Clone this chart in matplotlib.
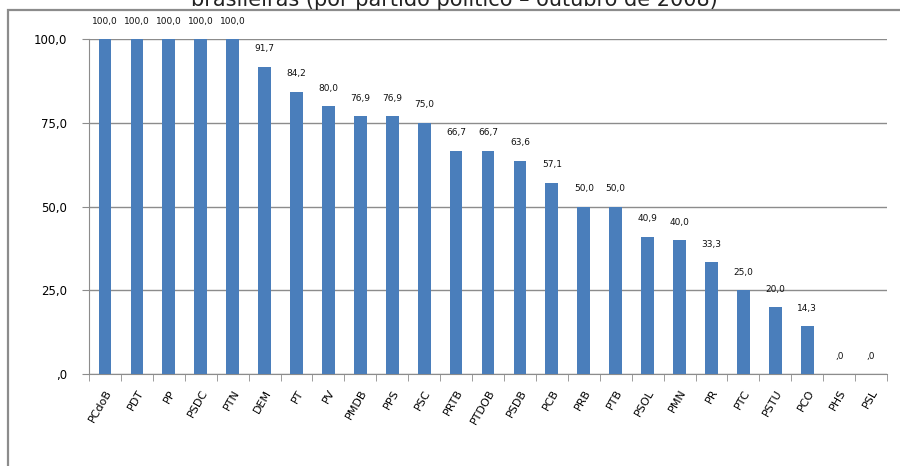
import matplotlib.pyplot as plt
from matplotlib.patches import Rectangle
from matplotlib.ticker import FixedLocator, FuncFormatter

partidos = ["PCdoB", "PDT", "PP", "PSDC", "PTN", "DEM", "PT", "PV", "PMDB", "PPS",
            "PSC", "PRTB", "PTDOB", "PSDB", "PCB", "PRB", "PTB", "PSOL", "PMN", "PR",
            "PTC", "PSTU", "PCO", "PHS", "PSL"]
valores = [100.0, 100.0, 100.0, 100.0, 100.0, 91.7, 84.2, 80.0, 76.9, 76.9,
           75.0, 66.7, 66.7, 63.6, 57.1, 50.0, 50.0, 40.9, 40.0, 33.3,
           25.0, 20.0, 14.3, 0.0, 0.0]
y_ticks = [0, 25, 50, 75, 100]


def fmt_br(v):
    s = f"{v:.1f}".replace(".", ",")
    if s.startswith("0,"):
        s = s[1:]
    return s


fig = plt.figure(figsize=(9, 4.66), dpi=100)
ax = fig.add_axes([0.0989, 0.1974, 0.8867, 0.7189])

# outer border of the chart area
fig.patches.append(Rectangle((8 / 900, -0.05), 1.1, 1 - 10 / 466 + 0.05,
                             transform=fig.transFigure, fill=False,
                             edgecolor="#8c8c8c", linewidth=1.6))

# title is cut off at the top edge, as in the source image
fig.text(0.505, 1 - 6 / 466, "brasileiras (por partido político – outubro de 2008)",
         ha="center", va="baseline", fontsize=15, color="#222222")

x = list(range(len(partidos)))
ax.bar(x, valores, width=0.4, color="#4a7ebb", zorder=3)

for xi, v in zip(x, valores):
    ax.annotate(fmt_br(v), (xi, v), xytext=(0, 18), textcoords="offset pixels",
                ha="center", va="center", fontsize=6.5, color="#111111")

ax.set_xlim(-0.5, len(partidos) - 0.5)
ax.set_ylim(0, 100)
ax.set_yticks(y_ticks)
ax.yaxis.set_major_formatter(FuncFormatter(lambda v, p: fmt_br(v)))
ax.yaxis.grid(True, color="#8c8c8c", linewidth=1)
ax.set_axisbelow(True)

ax.set_xticks(x)
ax.set_xticklabels(partidos, rotation=60, ha="right", rotation_mode="anchor", fontsize=8)
ax.xaxis.set_minor_locator(FixedLocator([i - 0.5 for i in range(len(partidos) + 1)]))
ax.tick_params(axis="x", which="major", length=0, pad=10)
ax.tick_params(axis="x", which="minor", length=5, color="#8c8c8c")
ax.tick_params(axis="y", length=5, color="#8c8c8c", labelsize=8.5, pad=11)

for s in ["top", "right"]:
    ax.spines[s].set_visible(False)
for s in ["left", "bottom"]:
    ax.spines[s].set_color("#8c8c8c")

fig.savefig("out.png", dpi=100)
